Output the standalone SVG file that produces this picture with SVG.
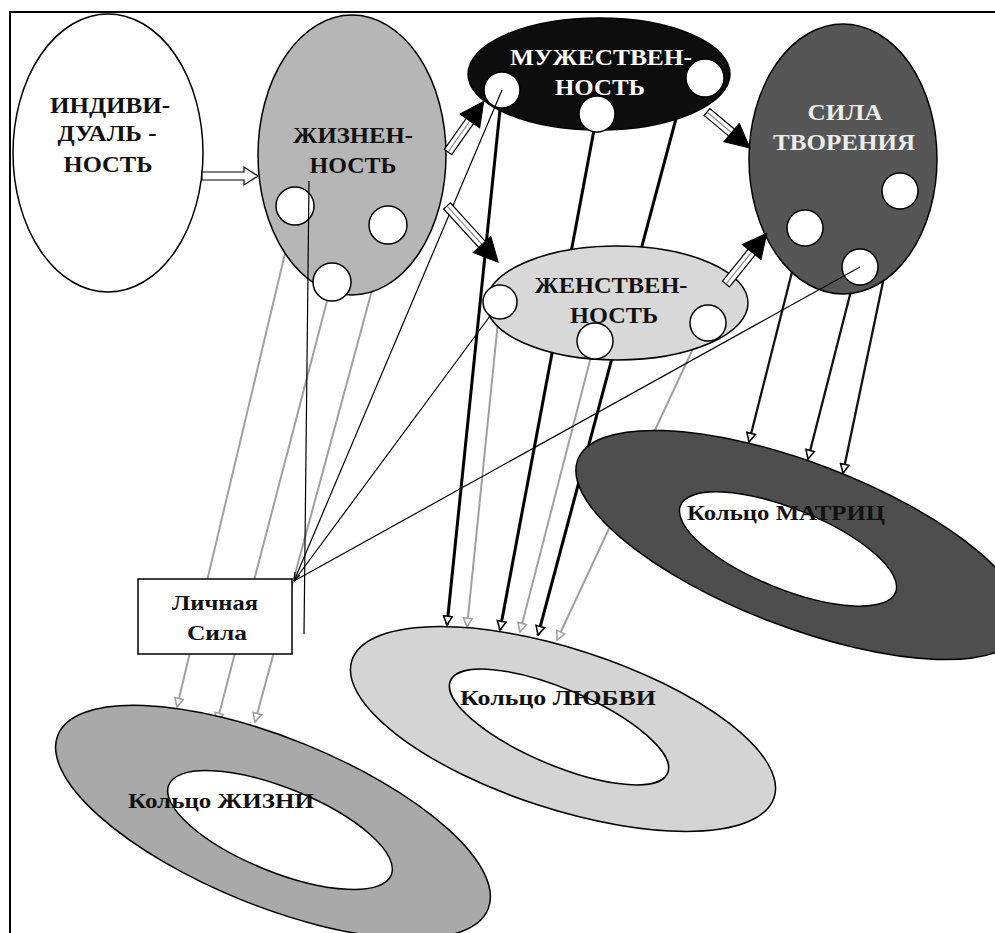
<svg xmlns="http://www.w3.org/2000/svg" width="995" height="933" viewBox="0 0 995 933">
<defs>
<style>
.lbl{font-family:"Liberation Serif","Times New Roman",serif;font-weight:bold;font-size:24px;text-anchor:middle;fill:#111}
.sm{font-size:22px}
.node{stroke:#000;stroke-width:1.5}
.dot{fill:#fff;stroke:#000;stroke-width:1.5}
.thin{stroke:#000;stroke-width:1.2;fill:none}
.thick{stroke:#000;stroke-width:3;fill:none}
.gray{stroke:#a0a0a0;stroke-width:2;fill:none}
.med{stroke:#111;stroke-width:2.3;fill:none}
.ring{stroke:#000;stroke-width:1.5}
.hole{fill:#fff;stroke:#000;stroke-width:1.5}
.shaft{fill:#fff;stroke:#000;stroke-width:1.2}
.hatch{stroke:#777;stroke-width:1}
.head{fill:#000;stroke:#000;stroke-width:1}
</style>
<marker id="ab" viewBox="0 0 10 10" refX="9" refY="5" markerWidth="11" markerHeight="11" markerUnits="userSpaceOnUse" orient="auto">
<path d="M1,1 L9,5 L1,9 z" fill="#fff" stroke="#000" stroke-width="1.4"/>
</marker>
<marker id="ag" viewBox="0 0 10 10" refX="9" refY="5" markerWidth="11" markerHeight="11" markerUnits="userSpaceOnUse" orient="auto">
<path d="M1,1 L9,5 L1,9 z" fill="#fff" stroke="#a0a0a0" stroke-width="1.4"/>
</marker>
</defs>
<rect width="995" height="933" fill="#fff"/>
<path d="M10,933 V12 H995" fill="none" stroke="#000" stroke-width="2"/>

<g id="connectors">
<!-- ЖИЗНЕННОСТЬ to Кольцо ЖИЗНИ -->
<line class="gray" x1="287" y1="245" x2="177" y2="707" marker-end="url(#ag)"/>
<line class="gray" x1="332" y1="282" x2="217" y2="722" marker-end="url(#ag)"/>
<line class="gray" x1="378" y1="268" x2="255" y2="722" marker-end="url(#ag)"/>
<!-- МУЖЕСТВЕННОСТЬ to Кольцо ЛЮБВИ -->
<line class="thick" x1="502" y1="90" x2="447" y2="625" marker-end="url(#ab)"/>
<line class="thick" x1="597" y1="114" x2="500" y2="630" marker-end="url(#ab)"/>
<line class="thick" x1="685" y1="85" x2="538" y2="635" marker-end="url(#ab)"/>
<!-- ЖЕНСТВЕННОСТЬ to Кольцо ЛЮБВИ -->
<line class="gray" x1="500" y1="302" x2="467" y2="627" marker-end="url(#ag)"/>
<line class="gray" x1="595" y1="341" x2="520" y2="632" marker-end="url(#ag)"/>
<line class="gray" x1="705" y1="323" x2="557" y2="640" marker-end="url(#ag)"/>
<!-- СИЛА ТВОРЕНИЯ to Кольцо МАТРИЦ -->
<line class="med" x1="793" y1="268" x2="749" y2="442" marker-end="url(#ab)"/>
<line class="med" x1="853" y1="283" x2="808" y2="459" marker-end="url(#ab)"/>
<line class="med" x1="884" y1="277" x2="843" y2="473" marker-end="url(#ab)"/>
</g>

<g id="n-individ">
<ellipse class="node" cx="108" cy="153" rx="95" ry="139" fill="#fff"/>
<text class="lbl" x="110" y="113" textLength="120" lengthAdjust="spacingAndGlyphs">ИНДИВИ-</text>
<text class="lbl" x="107" y="141" textLength="99" lengthAdjust="spacingAndGlyphs">ДУАЛЬ -</text>
<text class="lbl" x="108" y="172" textLength="89" lengthAdjust="spacingAndGlyphs">НОСТЬ</text>
</g>

<g id="n-zhizn">
<ellipse class="node" cx="352" cy="155" rx="94" ry="140" fill="#b6b6b6"/>
<text class="lbl" x="353" y="143" textLength="120" lengthAdjust="spacingAndGlyphs">ЖИЗНЕН-</text>
<text class="lbl" x="353" y="173" textLength="87" lengthAdjust="spacingAndGlyphs">НОСТЬ</text>
<circle class="dot" cx="295" cy="206" r="19"/>
<circle class="dot" cx="388" cy="225" r="19"/>
<circle class="dot" cx="332" cy="282" r="19"/>
</g>

<g id="n-muzh">
<ellipse class="node" cx="599" cy="74" rx="131" ry="56" fill="#0d0d0d"/>
<text class="lbl" x="601" y="65" textLength="182" lengthAdjust="spacingAndGlyphs" style="fill:#fff">МУЖЕСТВЕН-</text>
<text class="lbl" x="600" y="95" textLength="90" lengthAdjust="spacingAndGlyphs" style="fill:#fff">НОСТЬ</text>
<circle class="dot" cx="502" cy="90" r="18"/>
<circle class="dot" cx="597" cy="114" r="18"/>
<circle class="dot" cx="705" cy="78" r="19"/>
</g>

<g id="n-sila-tvorenia">
<ellipse class="node" cx="843" cy="159" rx="94" ry="135" fill="#565656"/>
<text class="lbl" x="845" y="120" textLength="75" lengthAdjust="spacingAndGlyphs" style="fill:#ececec">СИЛА</text>
<text class="lbl" x="844" y="150" textLength="142" lengthAdjust="spacingAndGlyphs" style="fill:#ececec">ТВОРЕНИЯ</text>
<circle class="dot" cx="900" cy="191" r="18"/>
<circle class="dot" cx="805" cy="228" r="18"/>
<circle class="dot" cx="860" cy="267" r="18"/>
</g>

<g id="n-zhenstv">
<ellipse class="node" cx="617" cy="303" rx="131" ry="57" fill="#d8d8d8"/>
<text class="lbl" x="611" y="293" textLength="153" lengthAdjust="spacingAndGlyphs">ЖЕНСТВЕН-</text>
<text class="lbl" x="614" y="323" textLength="88" lengthAdjust="spacingAndGlyphs">НОСТЬ</text>
<circle class="dot" cx="500" cy="302" r="17"/>
<circle class="dot" cx="595" cy="341" r="18"/>
<circle class="dot" cx="708" cy="323" r="18"/>
</g>

<g id="n-lichnaya-sila">
<rect x="138" y="579" width="154" height="75" fill="#fff" stroke="#000" stroke-width="1.5"/>
<text class="lbl sm" x="215" y="610" textLength="86" lengthAdjust="spacingAndGlyphs">Личная</text>
<text class="lbl sm" x="217" y="640" textLength="60" lengthAdjust="spacingAndGlyphs">Сила</text>
</g>

<g id="ring-matric">
<ellipse class="ring" cx="800" cy="545" rx="238" ry="82" transform="rotate(21 800 545)" fill="#4e4e4e"/>
<ellipse class="hole" cx="788" cy="549" rx="116" ry="40" transform="rotate(22 788 549)"/>
<text class="lbl sm" x="786" y="520" textLength="198" lengthAdjust="spacingAndGlyphs">Кольцо МАТРИЦ</text>
</g>

<g id="ring-lubvi">
<ellipse class="ring" cx="563" cy="729" rx="222" ry="80" transform="rotate(18 563 729)" fill="#d4d4d4"/>
<ellipse class="hole" cx="559" cy="727" rx="118" ry="38" transform="rotate(23 559 727)"/>
<text class="lbl sm" x="558" y="705" textLength="196" lengthAdjust="spacingAndGlyphs">Кольцо ЛЮБВИ</text>
</g>

<g id="ring-zhizni">
<ellipse class="ring" cx="273" cy="822" rx="232" ry="84" transform="rotate(22 273 822)" fill="#a9a9a9"/>
<ellipse class="hole" cx="280" cy="830" rx="120" ry="42" transform="rotate(22 280 830)"/>
<text class="lbl sm" x="221" y="808" textLength="186" lengthAdjust="spacingAndGlyphs">Кольцо ЖИЗНИ</text>
</g>

<g id="connectors-over">
<line class="thin" x1="309" y1="181" x2="304" y2="634"/>
<line class="thin" x1="294" y1="581" x2="502" y2="90"/>
<line class="thin" x1="294" y1="581" x2="490" y2="316"/>
<line class="thin" x1="294" y1="581" x2="860" y2="267"/>
<path class="thin" d="M294,581 l1,-9 M294,581 l6,-6"/>
<!-- block arrows -->
<path class="shaft" d="M202,172 H244 V167 L258,176 L244,185 V180 H202 Z"/>
<g transform="translate(448,152) rotate(-54.8)">
<rect class="shaft" x="0" y="-4.5" width="40" height="9"/><line class="hatch" x1="0" y1="0" x2="40" y2="0"/>
<polygon class="head" points="38,-12 62,0 38,12"/>
</g>
<g transform="translate(447,206) rotate(47.7)">
<rect class="shaft" x="0" y="-4.5" width="54" height="9"/><line class="hatch" x1="0" y1="0" x2="54" y2="0"/>
<polygon class="head" points="52,-12 76,0 52,12"/>
</g>
<g transform="translate(707,112) rotate(39.9)">
<rect class="shaft" x="0" y="-4.5" width="34" height="9"/><line class="hatch" x1="0" y1="0" x2="34" y2="0"/>
<polygon class="head" points="32,-12 56,0 32,12"/>
</g>
<g transform="translate(726,284) rotate(-51.2)">
<rect class="shaft" x="0" y="-4.5" width="43" height="9"/><line class="hatch" x1="0" y1="0" x2="43" y2="0"/>
<polygon class="head" points="41,-12 65,0 41,12"/>
</g>
</g>
</svg>
